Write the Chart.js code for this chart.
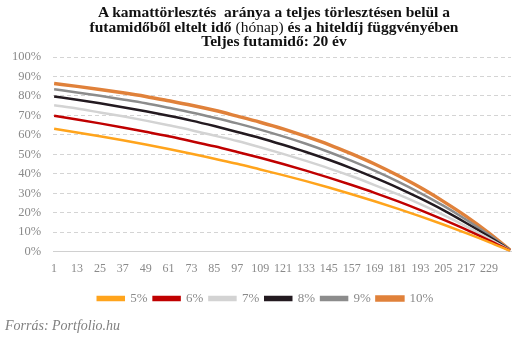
<!DOCTYPE html>
<html><head><meta charset="utf-8">
<script src="https://cdn.jsdelivr.net/npm/chart.js@4.4.1/dist/chart.umd.min.js"></script>
<style>
html,body{margin:0;padding:0;background:#fff;}
#wrap{position:relative;width:531px;height:342px;overflow:hidden;}
#title{position:absolute;left:0;width:548px;top:5px;text-align:center;font-family:"Liberation Serif",serif;font-weight:bold;font-size:15.5px;line-height:14.5px;color:#111;z-index:2;}
#title .n{font-weight:normal}
#src{position:absolute;left:5px;top:318px;font-family:"Liberation Serif",serif;font-style:italic;font-size:14px;color:#7f7f7f;z-index:2;}
canvas{position:absolute;left:0;top:0;}
</style></head>
<body>
<div id="wrap">
<div id="title">A kamattörlesztés&nbsp; aránya a teljes törlesztésen belül a<br>futamidőből eltelt idő <span class="n">(hónap)</span> és a hiteldíj függvényében<br>Teljes futamidő: 20 év</div>
<canvas id="c" width="531" height="342"></canvas>
<div id="src">Forrás: Portfolio.hu</div>
</div>
<script>
// months at which values were read (plus the final month)
const months = [1,13,25,37,49,61,73,85,97,109,121,133,145,157,169,181,193,205,217,229,240];
const tickLabels = [1,13,25,37,49,61,73,85,97,109,121,133,145,157,169,181,193,205,217,229];
const seriesNames = ['5%','6%','7%','8%','9%','10%'];
const r5  = [63.1,61.2,59.3,57.2,55.0,52.7,50.3,47.7,45.1,42.2,39.3,36.2,32.9,29.5,25.9,22.1,18.1,13.9,9.5,4.9,0.4];
const r6  = [69.8,67.9,65.9,63.8,61.6,59.3,56.7,54.1,51.2,48.2,45.0,41.6,38.0,34.2,30.2,25.9,21.3,16.4,11.3,5.8,0.5];
const r7  = [75.2,73.5,71.5,69.5,67.3,64.9,62.4,59.6,56.8,53.6,50.2,46.6,42.8,38.7,34.2,29.5,24.4,18.9,13.0,6.7,0.6];
const r8  = [79.7,78.0,76.2,74.2,72.1,69.8,67.3,64.5,61.5,58.4,54.9,51.2,47.2,42.8,38.0,32.9,27.3,21.3,14.7,7.7,0.7];
const r9  = [83.4,81.8,80.1,78.2,76.2,73.9,71.5,68.8,65.9,62.7,59.2,55.4,51.2,46.6,41.6,36.1,30.1,23.6,16.4,8.6,0.7];
const r10 = [86.4,84.9,83.3,81.6,79.7,77.5,75.2,72.6,69.6,66.5,63.1,59.2,55.0,50.2,45.0,39.2,32.9,25.8,18.1,9.5,0.8];

const allSeries = [r5,r6,r7,r8,r9,r10];
const colors = ['#FFA41C','#C00000','#D3D3D3','#231A20','#8C8C8C','#E0813A'];
const widths = [2.5,2.5,2.5,2.5,2.5,3.5];

const datasets = allSeries.map((vals,i)=>({
  label: seriesNames[i],
  data: vals.map((v,j)=>({x:months[j], y:v})),
  borderColor: colors[i],
  backgroundColor: colors[i],
  borderWidth: widths[i],
  pointRadius: 0,
  cubicInterpolationMode: 'monotone',
  fill: false
}));

// shift the legend so it is centred like the original
const legendShift = {
  id: 'legendShift',
  afterLayout(chart) {
    if (chart.legend) { chart.legend.left += 10; chart.legend.right += 10; }
  }
};

const grey = '#8a8a8a';
new Chart(document.getElementById('c'), {
  type: 'line',
  data: { datasets },
  plugins: [legendShift],
  options: {
    responsive: false,
    animation: false,
    layout: { padding: { top: 57, right: 20, bottom: 27, left: 0 } },
    plugins: {
      tooltip: { enabled: false },
      title: { display: false },
      legend: {
        position: 'bottom',
        labels: {
          boxWidth: 26, boxHeight: 3, padding: 6,
          color: grey,
          font: { family: 'Liberation Serif', size: 13 }
        }
      }
    },
    scales: {
      x: {
        type: 'linear', min: 0.5, max: 240.5,
        afterBuildTicks: (s) => { s.ticks = tickLabels.map(v => ({ value: v })); },
        grid: { display: false, drawTicks: false },
        border: { display: true, color: '#d0d0d0', width: 1 },
        ticks: {
          autoSkip: false, maxRotation: 0, padding: 10,
          color: grey, font: { family: 'Liberation Serif', size: 12 },
          callback: (v) => String(v)
        }
      },
      y: {
        min: 0, max: 100,
        grid: { color: '#d4d4d4', drawTicks: false },
        border: { display: false, dash: [4, 3] },
        ticks: {
          stepSize: 10, padding: 12,
          color: grey, font: { family: 'Liberation Serif', size: 12.5 },
          callback: (v) => v + '%'
        }
      }
    }
  }
});
</script>
</body></html>
